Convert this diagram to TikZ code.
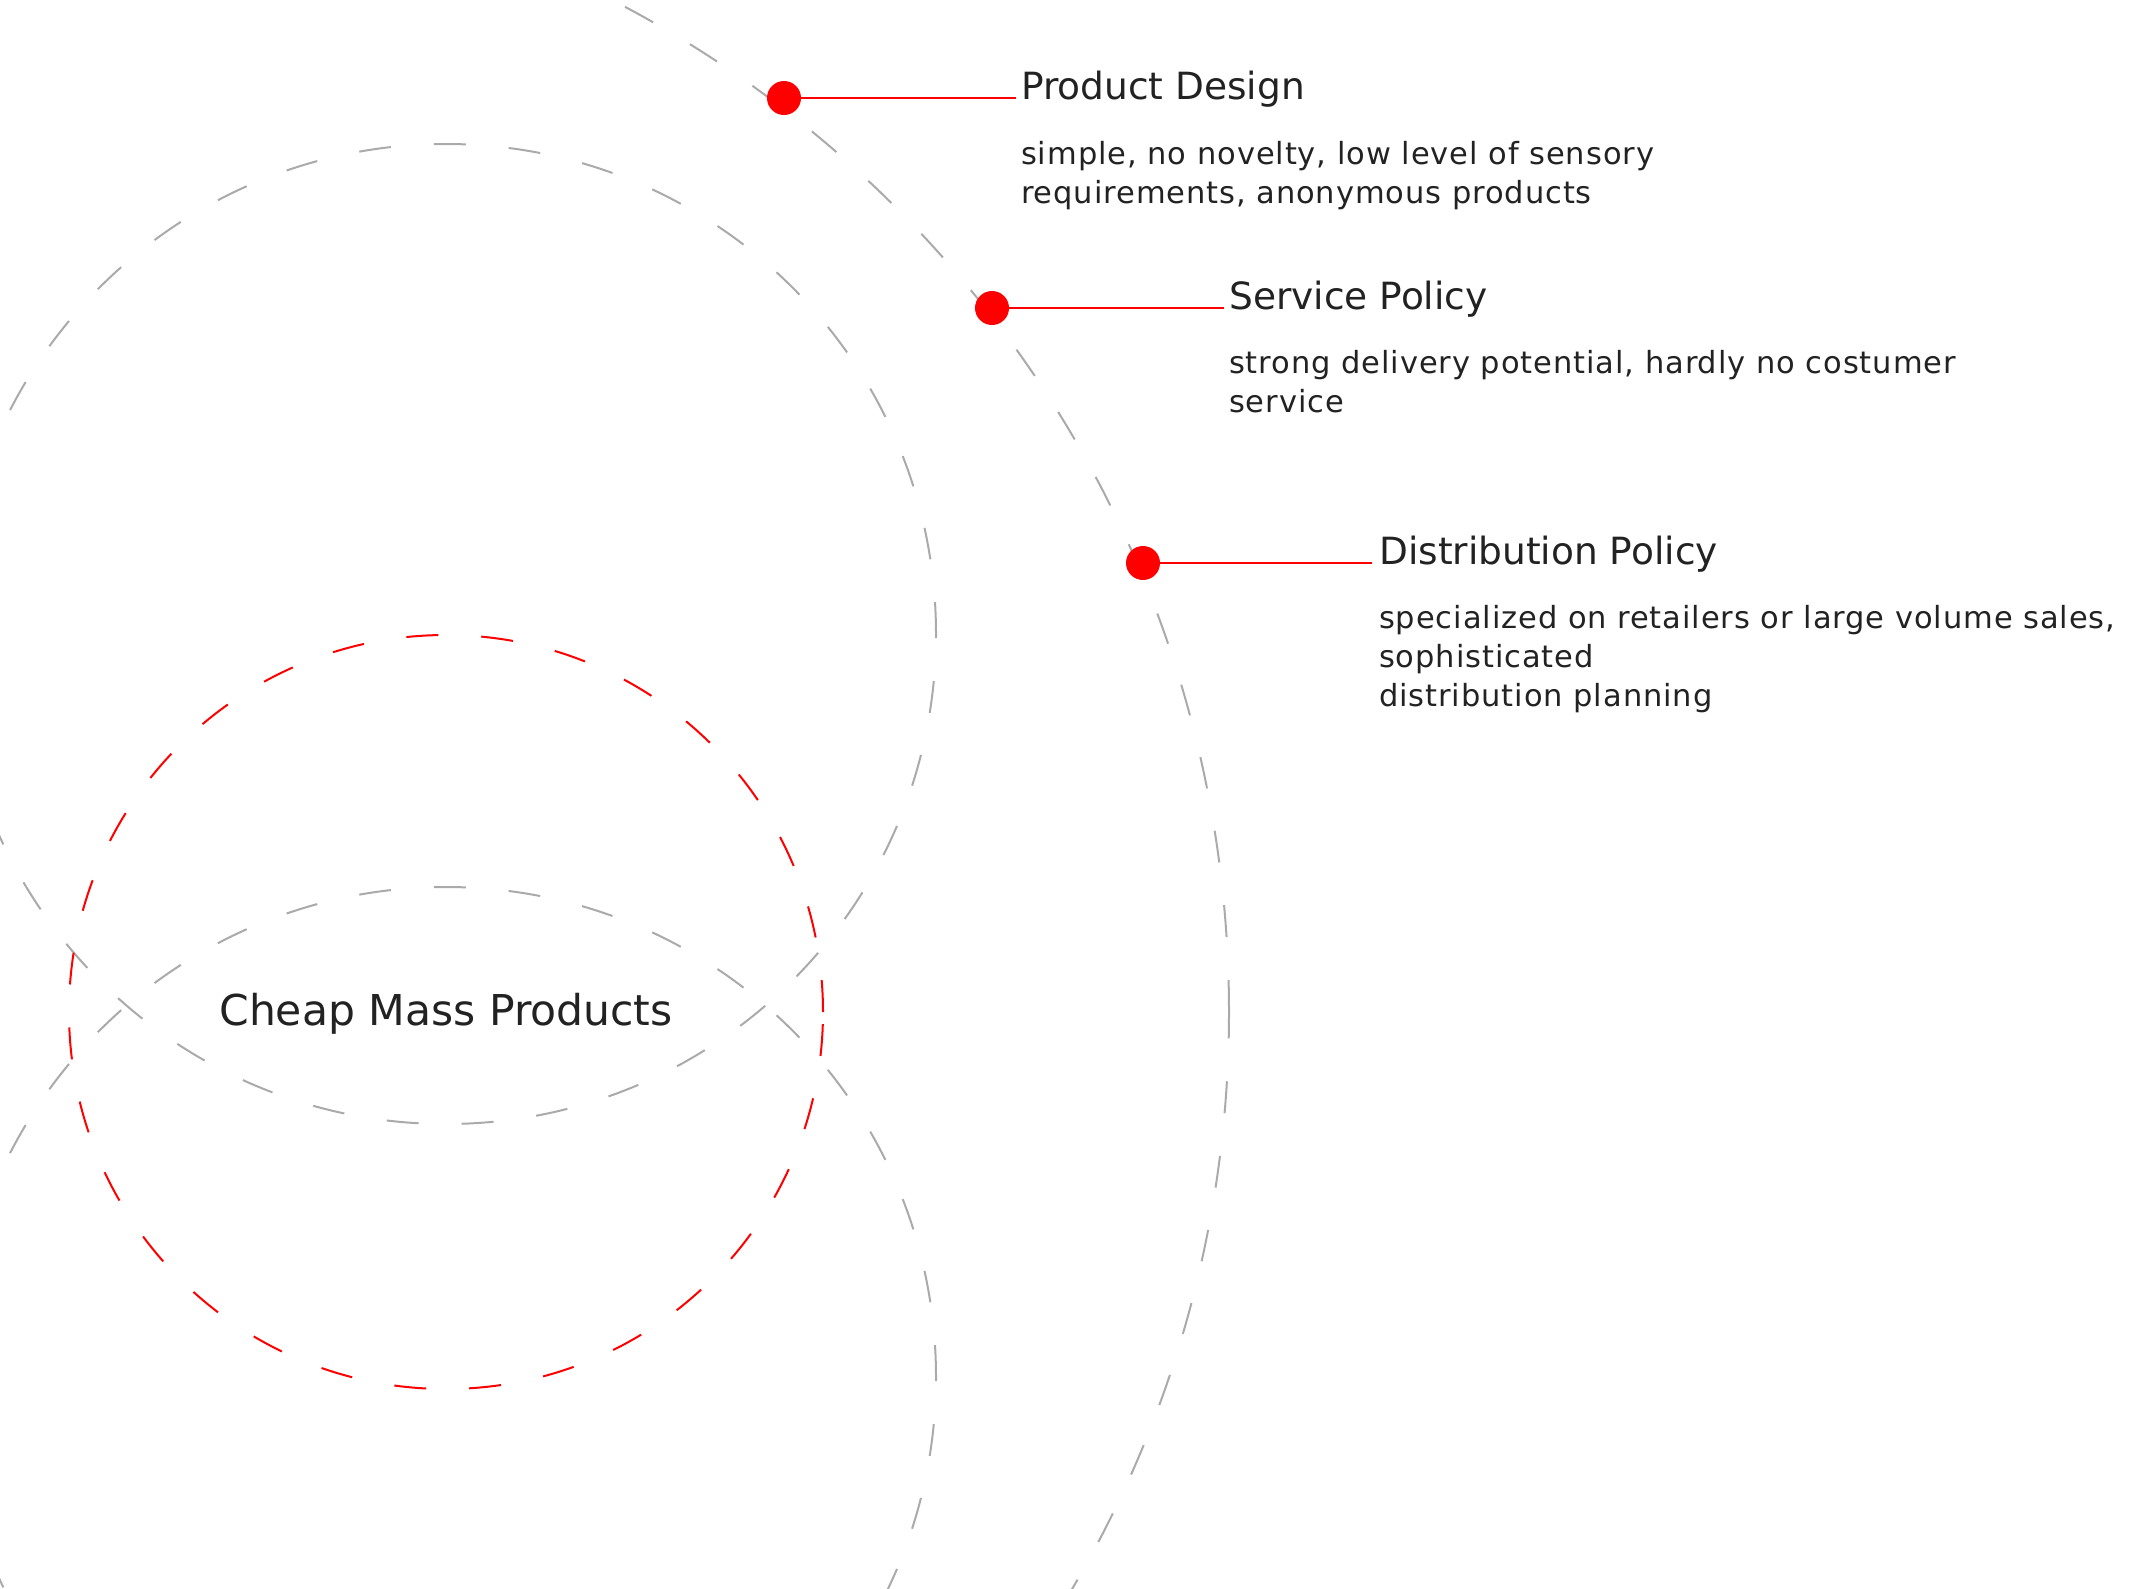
\documentclass[tikz,border=0pt]{standalone}
\usepackage{fontspec}
\setmainfont{DejaVu Sans}
\newfontfamily\descfont[LetterSpace=3]{DejaVu Sans}
\definecolor{ringgray}{HTML}{AAAAAA}
\definecolor{ink}{HTML}{222222}
\definecolor{hotred}{HTML}{FF0000}
\begin{document}
\begin{tikzpicture}[x=1pt,y=-1pt,
  graydash/.style={draw=ringgray, line width=2pt, dash pattern=on 32pt off 43pt},
  reddash/.style={draw=hotred, line width=2pt, dash pattern=on 32pt off 43pt},
  reddot/.style={circle, fill=hotred, inner sep=0pt, minimum size=34pt},
  lead/.style={draw=hotred, line width=2.5pt},
  titletext/.style={font=\fontsize{37.5}{44}\selectfont, text=ink, anchor=base west, inner sep=0pt},
  desctext/.style={font=\descfont\fontsize{30.5}{39}\selectfont, text=ink, anchor=north west, inner sep=0pt, align=left},
  centertext/.style={font=\fontsize{42.5}{50}\selectfont, text=ink, anchor=base, inner sep=0pt}]
\useasboundingbox (0,0) rectangle (2134,1588);
\begin{scope}
\clip (0,0) rectangle (2134,1588);
\draw[graydash] (446,634) circle[radius=490pt];
\draw[graydash] (446,1377) circle[radius=490pt];
\draw[graydash] (91,1012) circle[radius=1138pt];
\draw[reddash] (446,1012) circle[radius=377pt];
\end{scope}
\node[centertext] (cmp) at (446,1025) {Cheap Mass Products};
% Product Design
\node[reddot] (d1) at (784,98) {};
\coordinate (e1) at (1016,98);
\draw[lead] (d1.center) -- (e1);
\node[titletext] (t1) at (1021,99) {Product Design};
\node[desctext] (s1) at (1021,141) {simple, no novelty, low level of sensory\\requirements, anonymous products};
% Service Policy
\node[reddot] (d2) at (992,308) {};
\coordinate (e2) at (1224,308);
\draw[lead] (d2.center) -- (e2);
\node[titletext] (t2) at (1229,309) {Service Policy};
\node[desctext] (s2) at (1229,350) {strong delivery potential, hardly no costumer\\service};
% Distribution Policy
\node[reddot] (d3) at (1143,563) {};
\coordinate (e3) at (1372,563);
\draw[lead] (d3.center) -- (e3);
\node[titletext] (t3) at (1379,564) {Distribution Policy};
\node[desctext] (s3) at (1379,605) {specialized on retailers or large volume sales,\\sophisticated\\distribution planning};
\end{tikzpicture}
\end{document}
